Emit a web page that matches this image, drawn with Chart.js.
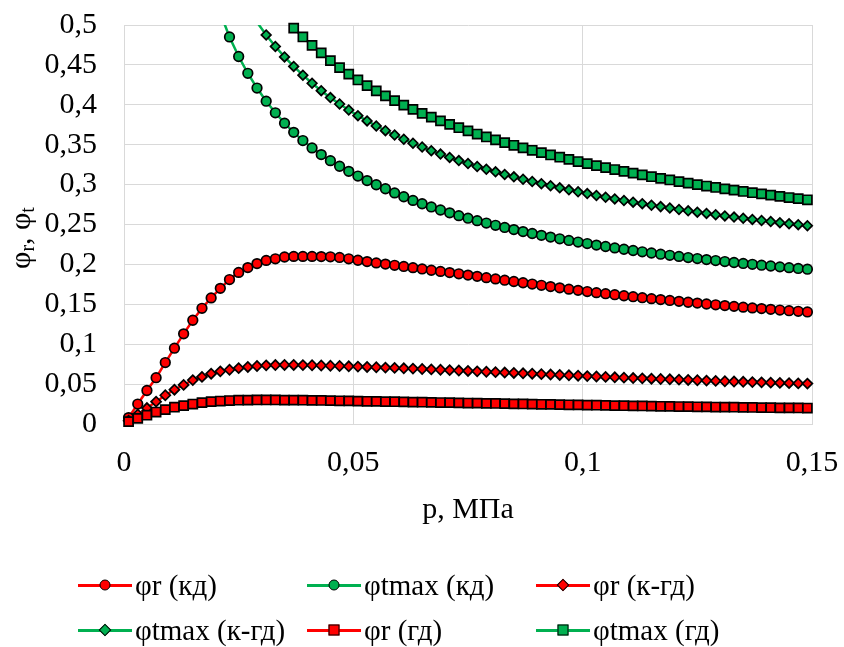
<!DOCTYPE html>
<html lang="ru">
<head>
<meta charset="UTF-8">
<title>φr, φt от p</title>
<script src="https://cdn.jsdelivr.net/npm/chart.js"></script>
<style>
  body { margin: 0; background: #fff; }
  #wrap { position: relative; width: 844px; height: 647px; }
  #legend { position: absolute; left: 0; top: 0; width: 844px; height: 647px; pointer-events: none;
            font-family: 'Liberation Serif', 'Times New Roman', serif; font-size: 29px; color: #000; }
  .item { position: absolute; display: flex; align-items: center; height: 36px; white-space: nowrap; }
  .sym { position: relative; width: 54px; height: 36px; }
  .sym .ln { position: absolute; left: 0; right: 0; top: 16.5px; height: 3px; }
  .sym .mk { position: absolute; left: 50%; top: 50%; border: 1.5px solid #000; box-sizing: border-box; }
  .item .t { margin-left: 3px; }
</style>
</head>
<body>
<div id="wrap">
  <canvas id="chart" width="844" height="647"></canvas>
  <div id="legend"></div>
</div>
<script>
// давление, МПа
const pValues = [0.001,0.003,0.005,0.007,0.009,0.011,0.013,0.015,0.017,0.019,
  0.021,0.023,0.025,0.027,0.029,0.031,0.033,0.035,0.037,0.039,
  0.041,0.043,0.045,0.047,0.049,0.051,0.053,0.055,0.057,0.059,
  0.061,0.063,0.065,0.067,0.069,0.071,0.073,0.075,0.077,0.079,
  0.081,0.083,0.085,0.087,0.089,0.091,0.093,0.095,0.097,0.099,
  0.101,0.103,0.105,0.107,0.109,0.111,0.113,0.115,0.117,0.119,
  0.121,0.123,0.125,0.127,0.129,0.131,0.133,0.135,0.137,0.139,
  0.141,0.143,0.145,0.147,0.149];

const phiR_kd = [0.008,0.025,0.042,0.058,0.077,0.095,0.113,0.130,0.145,0.158,
  0.170,0.181,0.190,0.196,0.201,0.205,0.207,0.2093,0.2100,0.2100,
  0.2100,0.2098,0.2095,0.2087,0.2070,0.2052,0.2035,0.2019,0.2004,0.1989,
  0.1974,0.1959,0.1943,0.1927,0.1912,0.1897,0.1882,0.1866,0.1850,0.1834,
  0.1818,0.1802,0.1786,0.1770,0.1754,0.1738,0.1722,0.1706,0.1690,0.1675,
  0.1660,0.1646,0.1633,0.1620,0.1607,0.1595,0.1583,0.1571,0.1559,0.1548,
  0.1537,0.1526,0.1515,0.1504,0.1494,0.1484,0.1474,0.1464,0.1455,0.1446,
  0.1437,0.1428,0.1420,0.1412,0.1404];

const phiT_kd = [null,null,null,null,null,null,null,null,null,null,
  0.515,0.4850,0.4605,0.4395,0.4210,0.4045,0.3900,0.3770,0.3655,0.3552,
  0.3460,0.3376,0.3300,0.3230,0.3166,0.3107,0.3050,0.2998,0.2948,0.2896,
  0.2848,0.2802,0.2760,0.2720,0.2682,0.2646,0.2611,0.2579,0.2548,0.2518,
  0.2490,0.2463,0.2436,0.2411,0.2387,0.2364,0.2342,0.2321,0.2300,0.2280,
  0.2261,0.2242,0.2224,0.2207,0.2190,0.2174,0.2158,0.2143,0.2128,0.2114,
  0.2100,0.2086,0.2073,0.2060,0.2048,0.2036,0.2024,0.2012,0.2001,0.1990,
  0.1980,0.1969,0.1959,0.1949,0.1940];

const phiR_kgd = [0.004,0.012,0.020,0.028,0.036,0.043,0.049,0.055,0.059,0.063,
  0.066,0.068,0.070,0.0715,0.0727,0.0735,0.0739,0.0740,0.0740,0.0738,
  0.0736,0.0733,0.0730,0.0727,0.0723,0.0719,0.0715,0.0711,0.0707,0.0703,
  0.0698,0.0694,0.0689,0.0684,0.0680,0.0675,0.0670,0.0665,0.0660,0.0655,
  0.0650,0.0645,0.0640,0.0635,0.0630,0.0625,0.0620,0.0615,0.0610,0.0605,
  0.0600,0.0595,0.0590,0.0585,0.0581,0.0576,0.0572,0.0568,0.0564,0.0560,
  0.0556,0.0552,0.0548,0.0544,0.0540,0.0536,0.0532,0.0529,0.0525,0.0522,
  0.0518,0.0515,0.0512,0.0509,0.0506];

const phiT_kgd = [null,null,null,null,null,null,null,null,null,null,
  null,null,null,null,0.5035,0.4875,0.4731,0.4600,0.4481,0.4371,
  0.4270,0.4177,0.4090,0.4010,0.3934,0.3864,0.3798,0.3735,0.3676,0.3621,
  0.3568,0.3518,0.3471,0.3425,0.3382,0.3341,0.3301,0.3264,0.3227,0.3193,
  0.3160,0.3127,0.3097,0.3067,0.3039,0.3011,0.2985,0.2959,0.2934,0.2910,
  0.2887,0.2864,0.2842,0.2821,0.2800,0.2780,0.2761,0.2742,0.2724,0.2706,
  0.2688,0.2671,0.2655,0.2639,0.2623,0.2608,0.2593,0.2578,0.2564,0.2550,
  0.2537,0.2523,0.2510,0.2498,0.2485];

const phiR_gd = [0.003,0.007,0.011,0.015,0.018,0.021,0.023,0.025,0.0267,0.028,
  0.0288,0.0294,0.0298,0.0300,0.0301,0.0301,0.0301,0.0300,0.0299,0.0298,
  0.0296,0.0295,0.0293,0.0291,0.0289,0.0287,0.0285,0.0283,0.0281,0.0279,
  0.0277,0.0275,0.0273,0.0271,0.0269,0.0267,0.0265,0.0263,0.0261,0.0259,
  0.0257,0.0255,0.0253,0.0251,0.0249,0.0247,0.0245,0.0243,0.0241,0.0239,
  0.0237,0.0235,0.0233,0.0231,0.0229,0.0228,0.0226,0.0224,0.0222,0.0221,
  0.0219,0.0217,0.0216,0.0214,0.0213,0.0211,0.0210,0.0208,0.0207,0.0206,
  0.0204,0.0203,0.0202,0.0201,0.0200];

const phiT_gd = [null,null,null,null,null,null,null,null,null,null,
  null,null,null,null,null,null,null,0.5085,0.4960,0.4850,
  0.4745,0.4650,0.4553,0.4465,0.4385,0.4311,0.4240,0.4174,0.4111,0.4053,
  0.3995,0.3943,0.3893,0.3845,0.3799,0.3755,0.3713,0.3673,0.3634,0.3597,
  0.3561,0.3526,0.3493,0.3461,0.3430,0.3400,0.3371,0.3343,0.3316,0.3289,
  0.3263,0.3238,0.3213,0.3189,0.3166,0.3143,0.3121,0.3099,0.3078,0.3058,
  0.3038,0.3019,0.3000,0.2982,0.2964,0.2947,0.2931,0.2914,0.2898,0.2883,
  0.2868,0.2853,0.2838,0.2824,0.2810];

const seriesNames = ['φr (кд)', 'φtmax (кд)', 'φr (к-гд)', 'φtmax (к-гд)', 'φr (гд)', 'φtmax (гд)'];
const seriesValues = [phiR_kd, phiT_kd, phiR_kgd, phiT_kgd, phiR_gd, phiT_gd];
const xTicks = [0, 0.05, 0.1, 0.15];
const yTicks = [0, 0.05, 0.1, 0.15, 0.2, 0.25, 0.3, 0.35, 0.4, 0.45, 0.5];

const RED = '#ff0000', GREEN = '#00b050';
const FONT = "'Liberation Serif', 'Times New Roman', serif";
const looks = [
    { color: RED, shape: 'circle', r: 4.8 },
    { color: GREEN, shape: 'circle', r: 4.8 },
    { color: RED, shape: 'rectRot', r: 5 },
    { color: GREEN, shape: 'rectRot', r: 4.8 },
    { color: RED, shape: 'rect', r: 6.4 },
    { color: GREEN, shape: 'rect', r: 6.4 }
];

const fmt = v => String(Math.round(v * 1000) / 1000).replace('.', ',');
const yMax = yTicks[yTicks.length - 1];

// линия обрезается по области графика, маркеры нет (как в Excel)
const datasets = [];
seriesValues.forEach((vals, k) => {
    const pts = pValues.map((p, i) => ({ x: p, y: vals[i] }));
    const lk = looks[k];
    datasets.push({
        label: seriesNames[k], data: pts, borderColor: lk.color, borderWidth: 2.5,
        pointRadius: 0, fill: false, tension: 0, order: 12 - 2 * k
    });
    datasets.push({
        label: seriesNames[k], data: pts, showLine: false, clip: false,
        pointStyle: lk.shape,
        pointRadius: c => (c.raw && c.raw.y != null && c.raw.y <= yMax) ? lk.r : 0,
        pointBackgroundColor: lk.color, pointBorderColor: '#000', pointBorderWidth: 1.7,
        order: 11 - 2 * k
    });
});

const yTitle = {
    id: 'yTitle',
    afterDraw(chart) {
        const ctx = chart.ctx;
        const parts = [['φ', 30, 0], ['r', 20, 7], [', φ', 30, 0], ['t', 20, 7]];
        ctx.save();
        ctx.fillStyle = '#000';
        ctx.textBaseline = 'middle';
        let total = 0;
        parts.forEach(([s, size]) => { ctx.font = size + 'px ' + FONT; total += ctx.measureText(s).width; });
        ctx.translate(22, 238);
        ctx.rotate(-Math.PI / 2);
        let x = -total / 2;
        parts.forEach(([s, size, dy]) => {
            ctx.font = size + 'px ' + FONT;
            ctx.fillText(s, x, dy);
            x += ctx.measureText(s).width;
        });
        ctx.restore();
    }
};

new Chart(document.getElementById('chart'), {
    type: 'line',
    data: { datasets },
    options: {
        responsive: false,
        animation: false,
        layout: { padding: { left: 0, right: 32, top: 25, bottom: 119 } },
        plugins: { legend: { display: false }, tooltip: { enabled: false } },
        scales: {
            x: {
                type: 'linear', min: 0, max: 0.15,
                afterBuildTicks: s => { s.ticks = xTicks.map(v => ({ value: v })); },
                // высота оси и отступы подписей задаются вручную, чтобы область графика совпала
                afterFit: s => { s.height = 104; s.paddingLeft = 10; s.paddingRight = 28; },
                grid: { color: '#d9d9d9', drawTicks: false },
                border: { color: '#d9d9d9' },
                ticks: { padding: 21, color: '#000', font: { family: FONT, size: 30 }, maxRotation: 0, autoSkip: false, callback: fmt },
                title: { display: true, text: 'p, МПа', color: '#000', font: { family: FONT, size: 30 }, padding: 0 }
            },
            y: {
                type: 'linear', min: 0, max: 0.5,
                afterBuildTicks: s => { s.ticks = yTicks.map(v => ({ value: v })); },
                afterFit: s => { s.width = 124; s.paddingTop = 15; s.paddingBottom = 15; },
                grid: { color: '#d9d9d9', drawTicks: false },
                border: { color: '#d9d9d9' },
                ticks: { padding: 27, color: '#000', font: { family: FONT, size: 30 }, autoSkip: false, callback: fmt }
            }
        }
    },
    plugins: [yTitle]
});

// легенда: 3 колонки, 2 строки
const legendCols = [78, 307, 536];
const legendRows = [567, 612];
const legend = document.getElementById('legend');
seriesNames.forEach((name, k) => {
    const lk = looks[k];
    const item = document.createElement('div');
    item.className = 'item';
    item.style.left = legendCols[k % 3] + 'px';
    item.style.top = legendRows[Math.floor(k / 3)] + 'px';
    let mk;
    if (lk.shape === 'circle') mk = 'width:11px;height:11px;border-radius:50%;transform:translate(-50%,-50%)';
    else if (lk.shape === 'rectRot') mk = 'width:9px;height:9px;transform:translate(-50%,-50%) rotate(45deg)';
    else mk = 'width:11px;height:11px;transform:translate(-50%,-50%)';
    item.innerHTML = '<div class="sym"><div class="ln" style="background:' + lk.color + '"></div>' +
        '<div class="mk" style="background:' + lk.color + ';' + mk + '"></div></div>' +
        '<span class="t">' + name + '</span>';
    legend.appendChild(item);
});
</script>
</body>
</html>
